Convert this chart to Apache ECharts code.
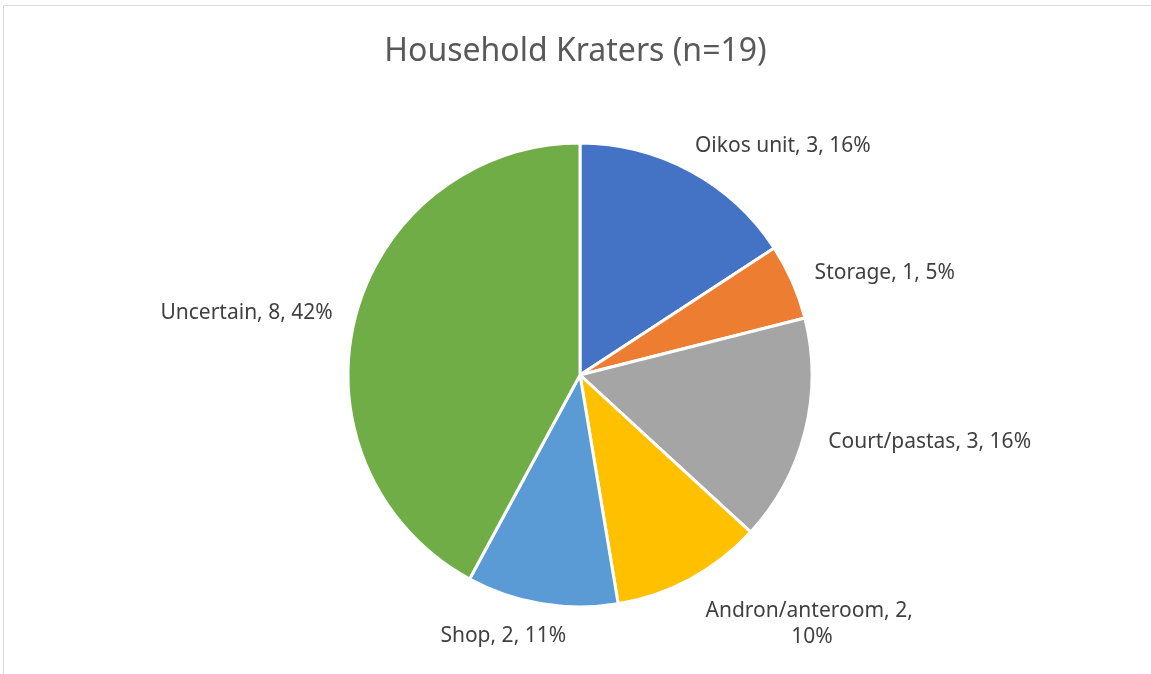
<!DOCTYPE html>
<html>
<head>
<meta charset="utf-8">
<script src="https://cdn.jsdelivr.net/npm/echarts@6/dist/echarts.min.js"></script>
<style>
html,body{margin:0;padding:0;background:#fff;}
#frame{position:absolute;left:3px;top:5px;width:1160px;height:680px;border-left:1px solid #d9d9d9;border-top:1px solid #d9d9d9;box-sizing:border-box;}
#main{position:absolute;left:0;top:0;width:1151px;height:674px;}
</style>
</head>
<body>
<div id="frame"></div>
<div id="main"></div>
<script>
const categories = ['Oikos unit', 'Storage', 'Court/pastas', 'Andron/anteroom', 'Shop', 'Uncertain'];
const values = [3, 1, 3, 2, 2, 8];
const percentLabels = [16, 5, 16, 10, 11, 42];
const colors = ['#4472C4', '#ED7D31', '#A5A5A5', '#FFC000', '#5B9BD5', '#70AD47'];

// small label nudges to mimic the original's label placement (style only)
const labelNudges = [
  {dx: -11, dy: -6},
  {dx: -3, dy: 0},
  {dx: -3, dy: 5},
  {dx: 106, dy: 26, align: 'center'},
  {dx: 33, dy: 10},
  {dx: 4, dy: 0}
];

const chart = echarts.init(document.getElementById('main'), null, {renderer: 'canvas'});
const font = '"Noto Sans", "Open Sans", sans-serif';
const data = categories.map((c, i) => {
  const item = {name: c, value: values[i], itemStyle: {color: colors[i]}};
  if (c === 'Andron/anteroom') {
    item.label = {width: 225, overflow: 'break', lineHeight: 26};
  }
  return item;
});
chart.setOption({
  backgroundColor: 'transparent',
  animation: false,
  title: {
    text: 'Household Kraters (n=19)',
    left: 'center',
    top: 31,
    textStyle: {fontFamily: font, fontSize: 32, fontWeight: 'normal', color: '#595959'}
  },
  series: [{
    type: 'pie',
    center: [580, 375],
    radius: 232,
    startAngle: 90,
    clockwise: true,
    avoidLabelOverlap: false,
    itemStyle: {borderColor: '#fff', borderWidth: 3},
    label: {
      show: true,
      position: 'outside',
      fontFamily: font,
      fontSize: 21,
      color: '#404040',
      formatter: p => p.name + ', ' + p.value + ', ' + percentLabels[p.dataIndex] + '%'
    },
    labelLine: {show: false, length: 22, length2: 0},
    labelLayout: p => labelNudges[p.dataIndex],
    emphasis: {disabled: true},
    data: data
  }]
});
</script>
</body>
</html>
